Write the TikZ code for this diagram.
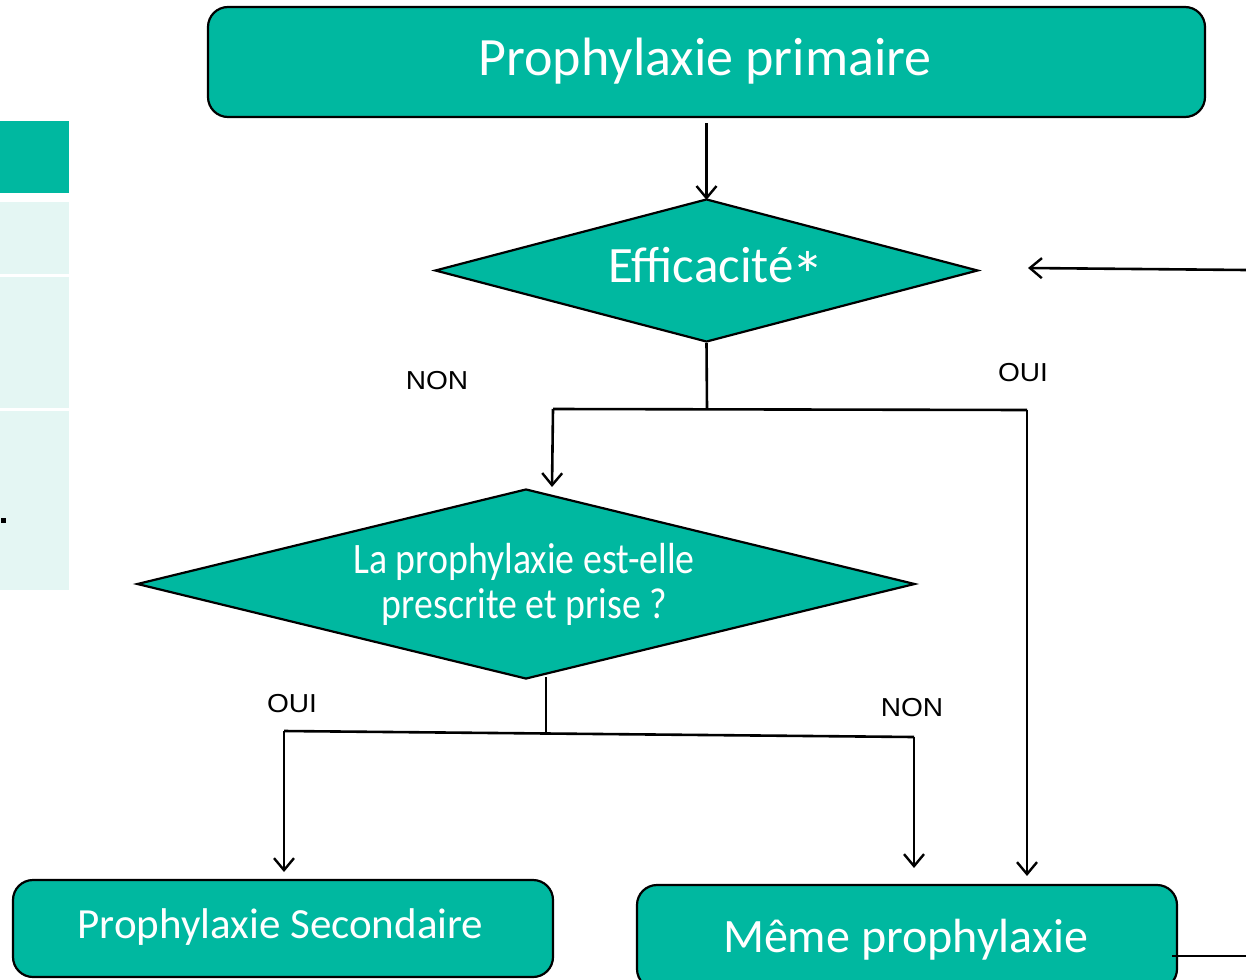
\documentclass[tikz,border=0pt]{standalone}
\usepackage{fontspec}
\setmainfont{Carlito}
\newfontfamily\lblfont{Liberation Sans}
\usetikzlibrary{arrows.meta,shapes.geometric}
\definecolor{teal1}{RGB}{0,184,160}
\definecolor{tealpale}{RGB}{228,246,243}
\tikzset{
  box/.style={draw=black, line width=2.2pt, fill=teal1, rounded corners=20pt, inner sep=0pt, text=white},
  dia/.style={draw=black, line width=2.2pt, fill=teal1, diamond, inner sep=0pt, text=white},
  conn/.style={draw=black, line width=2.6pt},
  arr/.style={conn, -{Straight Barb[length=12pt,width=20pt,line width=2.4pt]}},
  lbl/.style={font=\lblfont\fontsize{26}{30}\selectfont, text=black, inner sep=0pt},
  txt/.style={text=white, inner sep=0pt, align=center, anchor=base},
}
\begin{document}
\begin{tikzpicture}[x=1pt,y=-1pt]
\useasboundingbox (0,0) rectangle (1246,979);
% left table fragment
\fill[teal1] (0,121) rectangle (69,193);
\fill[tealpale] (0,202) rectangle (69,274);
\fill[tealpale] (0,277) rectangle (69,408);
\fill[tealpale] (0,411) rectangle (69,590);
\fill[black] (1,518) rectangle (6,523);
% nodes
\node[box, minimum width=997pt, minimum height=110pt] (top) at (706.5,62) {};
\node[txt, font=\fontsize{54}{60}\selectfont] (toptxt) at (705,76) {Prophylaxie primaire};
\node[dia, minimum width=543pt, minimum height=143pt] (d1) at (706.5,270.5) {};
\node[txt, font=\fontsize{51}{56}\selectfont] (d1txt) at (716.5,282) {Efficacité\kern-2pt\raisebox{-16pt}{\scalebox{1.3}{*}}};
\node[dia, minimum width=778pt, minimum height=190pt] (d2) at (526,584) {};
\node[txt, font=\fontsize{43.5}{45}\selectfont] (d2txta) at (524,573) {\scalebox{0.87}[1]{La prophylaxie est-elle}};
\node[txt, font=\fontsize{43.5}{45}\selectfont] (d2txtb) at (524.5,618) {\scalebox{0.87}[1]{prescrite et prise ?}};
\node[box, minimum width=540pt, minimum height=97pt] (sec) at (283,928.5) {};
\node[txt, font=\fontsize{43}{48}\selectfont] (sectxt) at (280.5,938) {Prophylaxie Secondaire};
\node[box, minimum width=540pt, minimum height=104pt] (meme) at (907,937) {};
\node[txt, font=\fontsize{48}{54}\selectfont] (memetxt) at (905.5,952) {Même prophylaxie};
% labels
\node[lbl] (non1) at (437,381) {\scalebox{1.08}[1]{NON}};
\node[lbl] (oui1) at (1023,373) {\scalebox{1.08}[1]{OUI}};
\node[lbl] (oui2) at (292,704) {\scalebox{1.08}[1]{OUI}};
\node[lbl] (non2) at (912,708) {\scalebox{1.08}[1]{NON}};
% junctions
\coordinate (j1) at (707,409);
\coordinate (j1l) at (553,409);
\coordinate (j1r) at (1027,410);
\coordinate (j2) at (546,733);
\coordinate (j2l) at (284,731);
\coordinate (j2r) at (914,737);
\coordinate (inR) at (1246,270);
\coordinate (outR) at (1246,956);
% connectors
\draw[arr] ([yshift=-5pt]top.south) -- ([yshift=-2pt]d1.north);
\draw[conn] (d1.south) -- (j1);
\draw[conn] (j1l) -- (j1r);
\draw[arr] (j1l) -- (552,487);
\draw[arr] (j1r) -- (1027,876);
\draw[arr] (inR) -- (1028,268);
\draw[conn] (546,677) -- (j2);
\draw[conn] (j2l) -- (j2r);
\draw[arr] (j2l) -- (284,872);
\draw[arr] (j2r) -- (914,868);
\draw[conn, line width=1.8pt] (1172,956) -- (outR);
\end{tikzpicture}
\end{document}
